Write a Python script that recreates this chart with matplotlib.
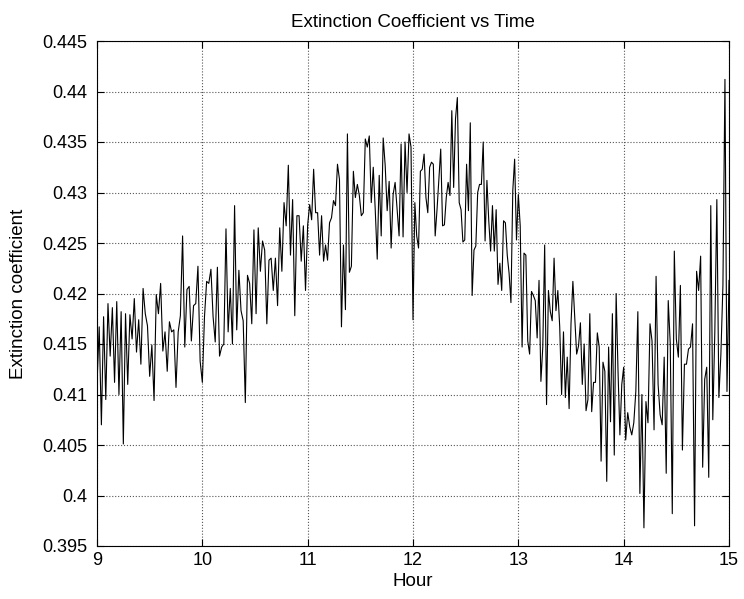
import numpy as np
import matplotlib
matplotlib.use("Agg")
import matplotlib.pyplot as plt
from matplotlib.ticker import FuncFormatter

# Extinction coefficient readings, one list per hour
seg_09 = [0.411, 0.4167, 0.407, 0.4177, 0.4095, 0.419, 0.4138, 0.4186, 0.4112, 0.4192,
          0.41, 0.4182, 0.4051, 0.418, 0.411, 0.4179, 0.4155, 0.4195, 0.4142, 0.4174,
          0.413, 0.4205, 0.418, 0.4168, 0.4118, 0.4149, 0.4094, 0.4199, 0.418, 0.421,
          0.4143, 0.4162, 0.4123, 0.4172, 0.4162, 0.4164, 0.4107, 0.4162, 0.4178, 0.4257,
          0.4147, 0.4204, 0.4207, 0.4153, 0.4188, 0.419, 0.4227, 0.4133]
seg_10 = [0.4112, 0.4177, 0.4212, 0.421, 0.4224, 0.4177, 0.4152, 0.4226, 0.4138, 0.4147,
          0.415, 0.4264, 0.4162, 0.4205, 0.415, 0.4287, 0.4164, 0.4223, 0.4183, 0.4173,
          0.4092, 0.4218, 0.421, 0.417, 0.4263, 0.418, 0.4265, 0.4222, 0.4252, 0.4243,
          0.417, 0.4233, 0.4235, 0.4203, 0.4235, 0.4188, 0.4265, 0.4222, 0.429, 0.4267,
          0.4327, 0.4238, 0.4293, 0.4178, 0.4277, 0.4277, 0.4232, 0.4267, 0.4203]
seg_11 = [0.4268, 0.4288, 0.4273, 0.4323, 0.428, 0.428, 0.4238, 0.4277, 0.4232, 0.4248,
          0.4233, 0.427, 0.4275, 0.4292, 0.4287, 0.4328, 0.4313, 0.4167, 0.4248, 0.4184,
          0.4358, 0.4221, 0.4227, 0.4321, 0.4295, 0.4308, 0.4297, 0.4277, 0.428, 0.4353,
          0.4345, 0.4356, 0.429, 0.4325, 0.4283, 0.4234, 0.4317, 0.4257, 0.4354, 0.4327,
          0.4282, 0.4311, 0.4245, 0.4298, 0.431, 0.4283, 0.4257, 0.4348, 0.4256, 0.435,
          0.43, 0.4358, 0.4345]
seg_12 = [0.4174, 0.429, 0.4257, 0.4245, 0.4321, 0.4323, 0.4338, 0.4295, 0.428, 0.4325,
          0.433, 0.4328, 0.4257, 0.4283, 0.4313, 0.4343, 0.4267, 0.4268, 0.4295, 0.431,
          0.4297, 0.4381, 0.4305, 0.4373, 0.4394, 0.429, 0.4283, 0.4251, 0.4253, 0.4328,
          0.4282, 0.4369, 0.4198, 0.4243, 0.4247, 0.43, 0.4308, 0.4308, 0.435, 0.4252,
          0.4312, 0.4272, 0.4242, 0.4287, 0.4242, 0.4283, 0.4209, 0.423, 0.4203, 0.4272,
          0.427, 0.4238, 0.422, 0.4191, 0.4302, 0.4333, 0.4253]
seg_13 = [0.4298, 0.4267, 0.4147, 0.424, 0.4238, 0.4153, 0.414, 0.4202, 0.4198, 0.4193,
          0.4156, 0.4213, 0.4113, 0.4147, 0.4248, 0.409, 0.4203, 0.4182, 0.4173, 0.4235,
          0.4183, 0.4203, 0.4167, 0.41, 0.4162, 0.4097, 0.4137, 0.4086, 0.417, 0.4212,
          0.4177, 0.414, 0.4148, 0.4171, 0.411, 0.415, 0.4084, 0.4095, 0.418, 0.4083,
          0.4112, 0.4112, 0.4161, 0.4147, 0.4034, 0.4132, 0.4123, 0.4014, 0.4147, 0.4073,
          0.418, 0.404, 0.42, 0.4123, 0.406, 0.411]
seg_14 = [0.4127, 0.4055, 0.4082, 0.4068, 0.406, 0.4072, 0.4103, 0.4182, 0.4002, 0.41,
          0.3968, 0.4093, 0.4072, 0.417, 0.4153, 0.4065, 0.4217, 0.411, 0.408, 0.407,
          0.4137, 0.4022, 0.4193, 0.415, 0.3982, 0.4242, 0.4155, 0.4137, 0.4208, 0.4045,
          0.413, 0.413, 0.4145, 0.4147, 0.417, 0.397, 0.4222, 0.4203, 0.4237, 0.4028,
          0.4115, 0.4127, 0.4018, 0.4287, 0.4075, 0.4162, 0.4293, 0.4097, 0.414, 0.4208,
          0.4412, 0.4103, 0.4213]
seg_start_hours = [9, 10, 11, 12, 13, 14]

x_ticks = [9, 10, 11, 12, 13, 14, 15]
y_ticks = [0.395, 0.4, 0.405, 0.41, 0.415, 0.42, 0.425, 0.43, 0.435, 0.44, 0.445]

segments = [seg_09, seg_10, seg_11, seg_12, seg_13, seg_14]
hours, values = [], []
for i, (h0, seg) in enumerate(zip(seg_start_hours, segments)):
    last = i == len(segments) - 1
    hours.append(np.linspace(h0, h0 + 1, len(seg), endpoint=last))
    values.append(np.array(seg))
hours = np.concatenate(hours)
values = np.concatenate(values)

plt.rcParams['font.family'] = ['Liberation Sans', 'DejaVu Sans']

fig = plt.figure(figsize=(7.44, 5.99), dpi=100)
ax = fig.add_axes([97/744, 53/599, 632/744, 505/599])
ax.plot(hours, values, color='black', linewidth=0.8)

ax.set_xlim(9, 15)
ax.set_ylim(0.395, 0.445)
ax.set_xticks(x_ticks)
ax.set_yticks(y_ticks)
ax.yaxis.set_major_formatter(FuncFormatter(lambda v, p: '%g' % round(v, 4)))
ax.xaxis.set_major_formatter(FuncFormatter(lambda v, p: '%g' % v))
ax.tick_params(direction='in', length=5, width=0.8, labelsize=13,
               top=True, right=True, colors='black')
ax.tick_params(axis='y', pad=7)
ax.tick_params(axis='x', pad=4.5)
ax.grid(True, linestyle=':', color='#555555', linewidth=0.8)
for s in ax.spines.values():
    s.set_linewidth(0.8)

ax.set_title('Extinction Coefficient vs Time', fontsize=13.5, pad=10)
ax.set_xlabel('Hour', fontsize=13.5, labelpad=3)
ax.set_ylabel('Extinction coefficient', fontsize=13.5, labelpad=11)

fig.savefig('out.png', dpi=100, facecolor='white')
